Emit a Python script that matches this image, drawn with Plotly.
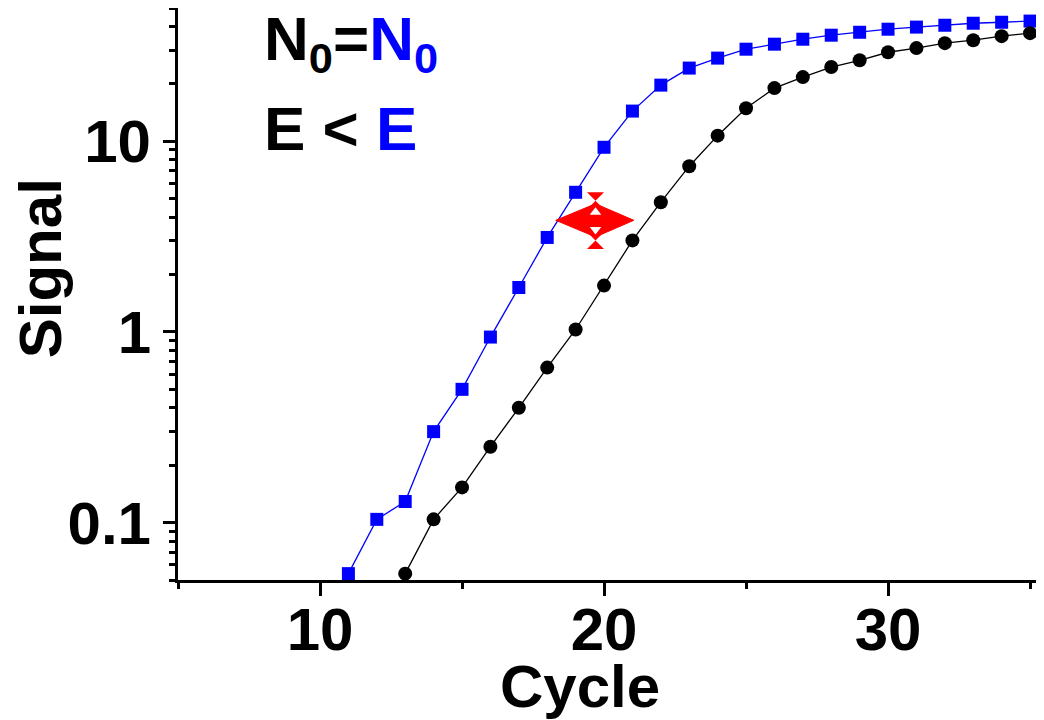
import numpy as np
import plotly.graph_objects as go

# ---- data ----
cycles_blue = list(range(11, 36))
signal_blue = [0.054, 0.104, 0.129, 0.30, 0.50, 0.94, 1.71, 3.13, 5.4, 9.3, 14.4, 19.7,
               24.2, 27.3, 30.4, 32.3, 34.3, 36.0, 37.3, 38.7, 39.7, 40.6, 41.6, 42.1, 42.7]
cycles_black = list(range(13, 36))
signal_black = [0.054, 0.104, 0.153, 0.25, 0.40, 0.65, 1.03, 1.75, 3.02, 4.79, 7.4, 10.7,
                14.9, 19.0, 21.7, 24.5, 26.6, 29.3, 30.8, 32.7, 33.9, 35.6, 36.9]

x_ticks = [10, 20, 30]
x_minor = [5, 15, 25, 35]
y_ticks = [0.1, 1, 10]
y_tick_text = ["0.1", "1", "10"]

# double arrow (shift marker) parameters
arrow_center_x = 19.7
arrow_left_x = 18.3
arrow_right_x = 21.05
arrow_y = 3.85
arrow_top_y = 4.70
arrow_bot_y = 3.15
spike_top_y = 4.88
spike_bot_y = 3.02
white_up_y = 4.24
white_down_y = 3.45

FONT = "Liberation Sans, Arial, sans-serif"
BLUE = "#0000FF"
RED = "#FF0000"

y_minor = [m * 10.0 ** e for e in range(-2, 2) for m in range(2, 10)
           if 0.05 <= m * 10.0 ** e <= 50]

fig = go.Figure()

fig.add_trace(go.Scatter(
    x=cycles_blue, y=signal_blue, mode="lines+markers",
    line=dict(color=BLUE, width=1.3),
    marker=dict(symbol="square", size=13, color=BLUE, line=dict(width=0)),
    showlegend=False))

fig.add_trace(go.Scatter(
    x=cycles_black, y=signal_black, mode="lines+markers",
    line=dict(color="black", width=1.3),
    marker=dict(symbol="circle", size=14, color="black", line=dict(width=0)),
    showlegend=False))

# red double-headed arrow
fig.add_trace(go.Scatter(
    x=[arrow_left_x, arrow_center_x, arrow_right_x, arrow_center_x, arrow_left_x],
    y=[arrow_y, arrow_top_y, arrow_y, arrow_bot_y, arrow_y],
    mode="lines", fill="toself", fillcolor=RED, line=dict(color=RED, width=1),
    showlegend=False, hoverinfo="skip"))
fig.add_trace(go.Scatter(
    x=[arrow_center_x, arrow_center_x], y=[spike_top_y, spike_bot_y],
    mode="markers", marker=dict(symbol="hourglass", size=17, color=RED, line=dict(width=0)),
    showlegend=False, hoverinfo="skip"))
fig.add_trace(go.Scatter(
    x=[arrow_center_x], y=[white_up_y], mode="markers",
    marker=dict(symbol="triangle-up", size=10, color="white", line=dict(width=0)),
    showlegend=False, hoverinfo="skip"))
fig.add_trace(go.Scatter(
    x=[arrow_center_x], y=[white_down_y], mode="markers",
    marker=dict(symbol="triangle-down", size=10, color="white", line=dict(width=0)),
    showlegend=False, hoverinfo="skip"))

ann_font = dict(family=FONT, size=62, color="black", weight="bold")
fig.add_annotation(
    xref="paper", yref="paper", x=0.098, y=1.0105, xanchor="left", yanchor="top",
    text="N<sub>0</sub>=<span style='color:#0000FF'>N<sub>0</sub></span>",
    showarrow=False, font=ann_font)
fig.add_annotation(
    xref="paper", yref="paper", x=0.098, y=0.853, xanchor="left", yanchor="top",
    text="E &lt; <span style='color:#0000FF'>E</span>",
    showarrow=False, font=ann_font)

tick_font = dict(family=FONT, size=60, color="black", weight="bold")

# axis titles (placed off-centre, as in the reference)
fig.add_annotation(
    xref="paper", yref="paper", x=0.4674, y=-0.187, xanchor="center", yanchor="middle",
    text="Cycle", showarrow=False, font=tick_font)
fig.add_annotation(
    xref="paper", yref="paper", x=-0.1605, y=0.545, xanchor="center", yanchor="middle",
    text="Signal", textangle=-90, showarrow=False, font=tick_font)

fig.update_xaxes(
    range=[5, 35.28], tickvals=x_ticks, ticktext=[str(v) for v in x_ticks],
    showline=True, linecolor="black", linewidth=3, mirror=False,
    ticks="outside", ticklen=13, tickwidth=2.5, tickcolor="black",
    minor=dict(tickvals=x_minor, ticks="outside", ticklen=6, tickwidth=2.5, tickcolor="black"),
    showgrid=False, zeroline=False,
    tickfont=tick_font, ticklabelstandoff=-18)

fig.update_yaxes(
    type="log", range=[np.log10(0.05), np.log10(50)],
    tickvals=y_ticks, ticktext=y_tick_text,
    showline=True, linecolor="black", linewidth=3,
    ticks="outside", ticklen=12, tickwidth=2.5, tickcolor="black",
    minor=dict(tickvals=y_minor, ticks="outside", ticklen=6, tickwidth=2.5, tickcolor="black"),
    showgrid=False, zeroline=False,
    tickfont=tick_font)

# the page body adds an 8px margin, so the figure is sized to fit the window
fig.update_layout(
    width=1036, height=712,
    margin=dict(l=170, r=6, t=0, b=140, autoexpand=False),
    plot_bgcolor="white", paper_bgcolor="white",
    font=dict(family=FONT, size=60, color="black"),
)

fig.write_html("out.html")
